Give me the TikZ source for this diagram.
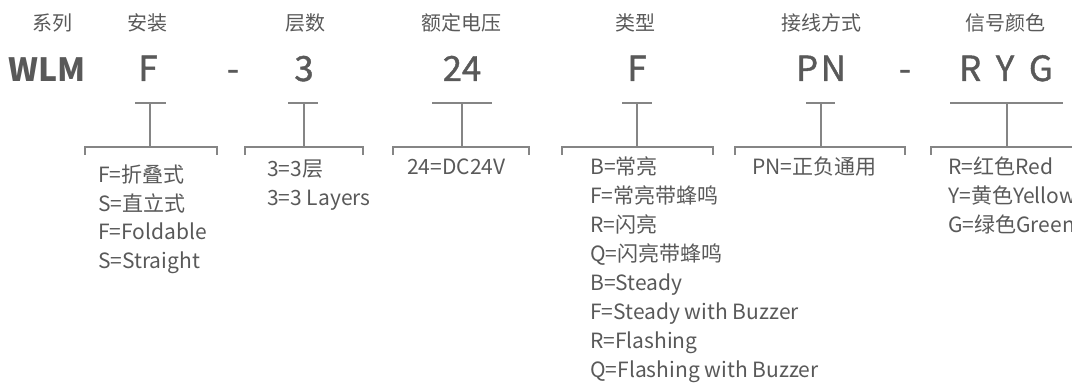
\documentclass[tikz,border=0pt]{standalone}
\usepackage{fontspec}
\setmainfont{Noto Sans CJK SC}
\newfontfamily\codefont[FakeBold=1.2]{Noto Sans CJK SC}
\usetikzlibrary{positioning}

\definecolor{txtgray}{HTML}{595959}
\definecolor{linegray}{HTML}{858585}

\begin{document}
\begin{tikzpicture}[
    x=0.75pt, y=-0.75pt,
    header/.style={anchor=center, text=txtgray, inner sep=0pt, font=\fontsize{15}{18}\selectfont},
    code/.style={anchor=base, text=txtgray, inner sep=0pt, font=\codefont\fontsize{26}{30}\selectfont},
    desc/.style={anchor=base west, text=txtgray, inner sep=0pt, font=\fontsize{15.75}{21.75}\selectfont},
    tee/.style={draw=linegray, line width=0.9pt},
    bracket/.style={draw=linegray, line width=0.9pt}
]
\useasboundingbox (0,0) rectangle (1072,385);

% Headers
\node[header] (hSeries) at (52,23) {系列};
\node[header] (hMount) at (147,23) {安装};
\node[header] (hLayer) at (305,23) {层数};
\node[header] (hVolt) at (461,23) {额定电压};
\node[header] (hType) at (635,23) {类型};
\node[header] (hWire) at (821,23) {接线方式};
\node[header] (hColor) at (1005,23) {信号颜色};

% Model code
\node[code, font=\fontsize{24}{28}\selectfont\bfseries] (cSeries) at (47,82) {WLM};
\node[code] (cMount) at (148,81) {F};
\node[code] (dash1) at (233,81) {-};
\node[code] (cLayer) at (304,81) {3};
\node[code] (cVolt) at (462,81) {24};
\node[code] (cType) at (637,81) {F};
\node[code] (cWire) at (821,81) {P\hspace{2pt}N};
\node[code] (dash2) at (905,81) {-};
\node[code] (cColor) at (1006,81) {R\hspace{11pt}Y\hspace{11pt}G};

% Tees
\coordinate (tMountL) at (135,103); \coordinate (tMountR) at (166,103);
\coordinate (tLayerL) at (288,103); \coordinate (tLayerR) at (318,103);
\coordinate (tVoltL) at (432,103);  \coordinate (tVoltR) at (492,103);
\coordinate (tTypeL) at (622,103);  \coordinate (tTypeR) at (652,103);
\coordinate (tWireL) at (806,103);  \coordinate (tWireR) at (835,103);
\coordinate (tColorL) at (950,103); \coordinate (tColorR) at (1063,103);

\coordinate (tMount) at (150,103);
\coordinate (tLayer) at (304,103);
\coordinate (tVolt) at (462,103);
\coordinate (tType) at (637,103);
\coordinate (tWire) at (821,103);
\coordinate (tColor) at (1007,103);

\coordinate (bMount) at (150,147);
\coordinate (bLayer) at (304,147);
\coordinate (bVolt) at (462,147);
\coordinate (bType) at (637,147);
\coordinate (bWire) at (821,147);
\coordinate (bColor) at (1007,147);

% Brackets
\coordinate (bMountL) at (85,155);  \coordinate (bMountR) at (217,155);
\coordinate (bLayerL) at (245,155); \coordinate (bLayerR) at (363,155);
\coordinate (bVoltL) at (393,155);  \coordinate (bVoltR) at (529,155);
\coordinate (bTypeL) at (562,155);  \coordinate (bTypeR) at (713,155);
\coordinate (bWireL) at (735,155);  \coordinate (bWireR) at (905,155);
\coordinate (bColorL) at (931,155); \coordinate (bColorR) at (1090,155);

\draw[tee] (tMountL) -- (tMountR) (tMount) -- (bMount);
\draw[tee] (tLayerL) -- (tLayerR) (tLayer) -- (bLayer);
\draw[tee] (tVoltL) -- (tVoltR) (tVolt) -- (bVolt);
\draw[tee] (tTypeL) -- (tTypeR) (tType) -- (bType);
\draw[tee] (tWireL) -- (tWireR) (tWire) -- (bWire);
\draw[tee] (tColorL) -- (tColorR) (tColor) -- (bColor);

\draw[bracket] (bMountL) |- (bMount) -| (bMountR);
\draw[bracket] (bLayerL) |- (bLayer) -| (bLayerR);
\draw[bracket] (bVoltL) |- (bVolt) -| (bVoltR);
\draw[bracket] (bTypeL) |- (bType) -| (bTypeR);
\draw[bracket] (bWireL) |- (bWire) -| (bWireR);
\draw[bracket] (bColorL) |- (bColor) -| (bColorR);

% Descriptions
\node[desc] (dMount) at (98,182) {\begin{tabular}[t]{@{}l@{}}F=折叠式\\S=直立式\\F=Foldable\\S=Straight\end{tabular}};
\node[desc] (dLayer) at (267,176) {\begin{tabular}[t]{@{}l@{}}3=3层\\3=3 Layers\end{tabular}};
\node[desc] (dVolt) at (407,175) {24=DC24V};
\node[desc] (dType) at (590,175) {\begin{tabular}[t]{@{}l@{}}B=常亮\\F=常亮带蜂鸣\\R=闪亮\\Q=闪亮带蜂鸣\\B=Steady\\F=Steady with Buzzer\\R=Flashing\\Q=Flashing with Buzzer\end{tabular}};
\node[desc] (dWire) at (752,175) {PN=正负通用};
\node[desc] (dColor) at (948,175) {\begin{tabular}[t]{@{}l@{}}R=红色Red\\Y=黄色Yellow\\G=绿色Green\end{tabular}};

\end{tikzpicture}
\end{document}
